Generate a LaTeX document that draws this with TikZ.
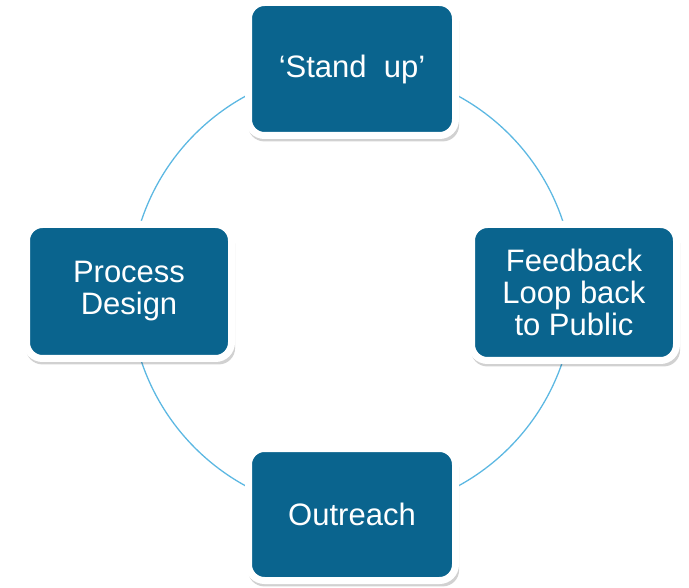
\documentclass[tikz,border=0pt]{standalone}
\usepackage{fontspec}
\setmainfont{Liberation Sans}
\usetikzlibrary{shadows}
\definecolor{boxfill}{HTML}{0A648E}
\definecolor{ringblue}{HTML}{5DB8E2}
\begin{document}
\begin{tikzpicture}[x=1pt,y=-1pt,
  stagebox/.style={draw=white, line width=7pt, fill=boxfill, rounded corners=16pt,
    minimum width=207pt, align=center, text=white,
    font=\fontsize{31}{32}\selectfont,
    drop shadow={shadow xshift=1.5pt, shadow yshift=-4.5pt, shadow scale=1.02, opacity=0.18, fill=black}},
  ring/.style={draw=ringblue, line width=1.3pt}]
\useasboundingbox (0,0) rectangle (689,588);
\draw[ring] (352,291) circle[radius=222];
\node[stagebox, minimum height=133pt] (up) at (352,69) {‘Stand\ \ up’};
\node[stagebox, minimum height=134pt, minimum width=205pt] (design) at (129,291.5) {Process\\Design};
\node[stagebox, minimum height=136pt, minimum width=205pt] (feedback) at (574,292.5) {Feedback\\Loop back\\to Public};
\node[stagebox, minimum height=132pt] (outreach) at (352,514.5) {Outreach};
\end{tikzpicture}
\end{document}
